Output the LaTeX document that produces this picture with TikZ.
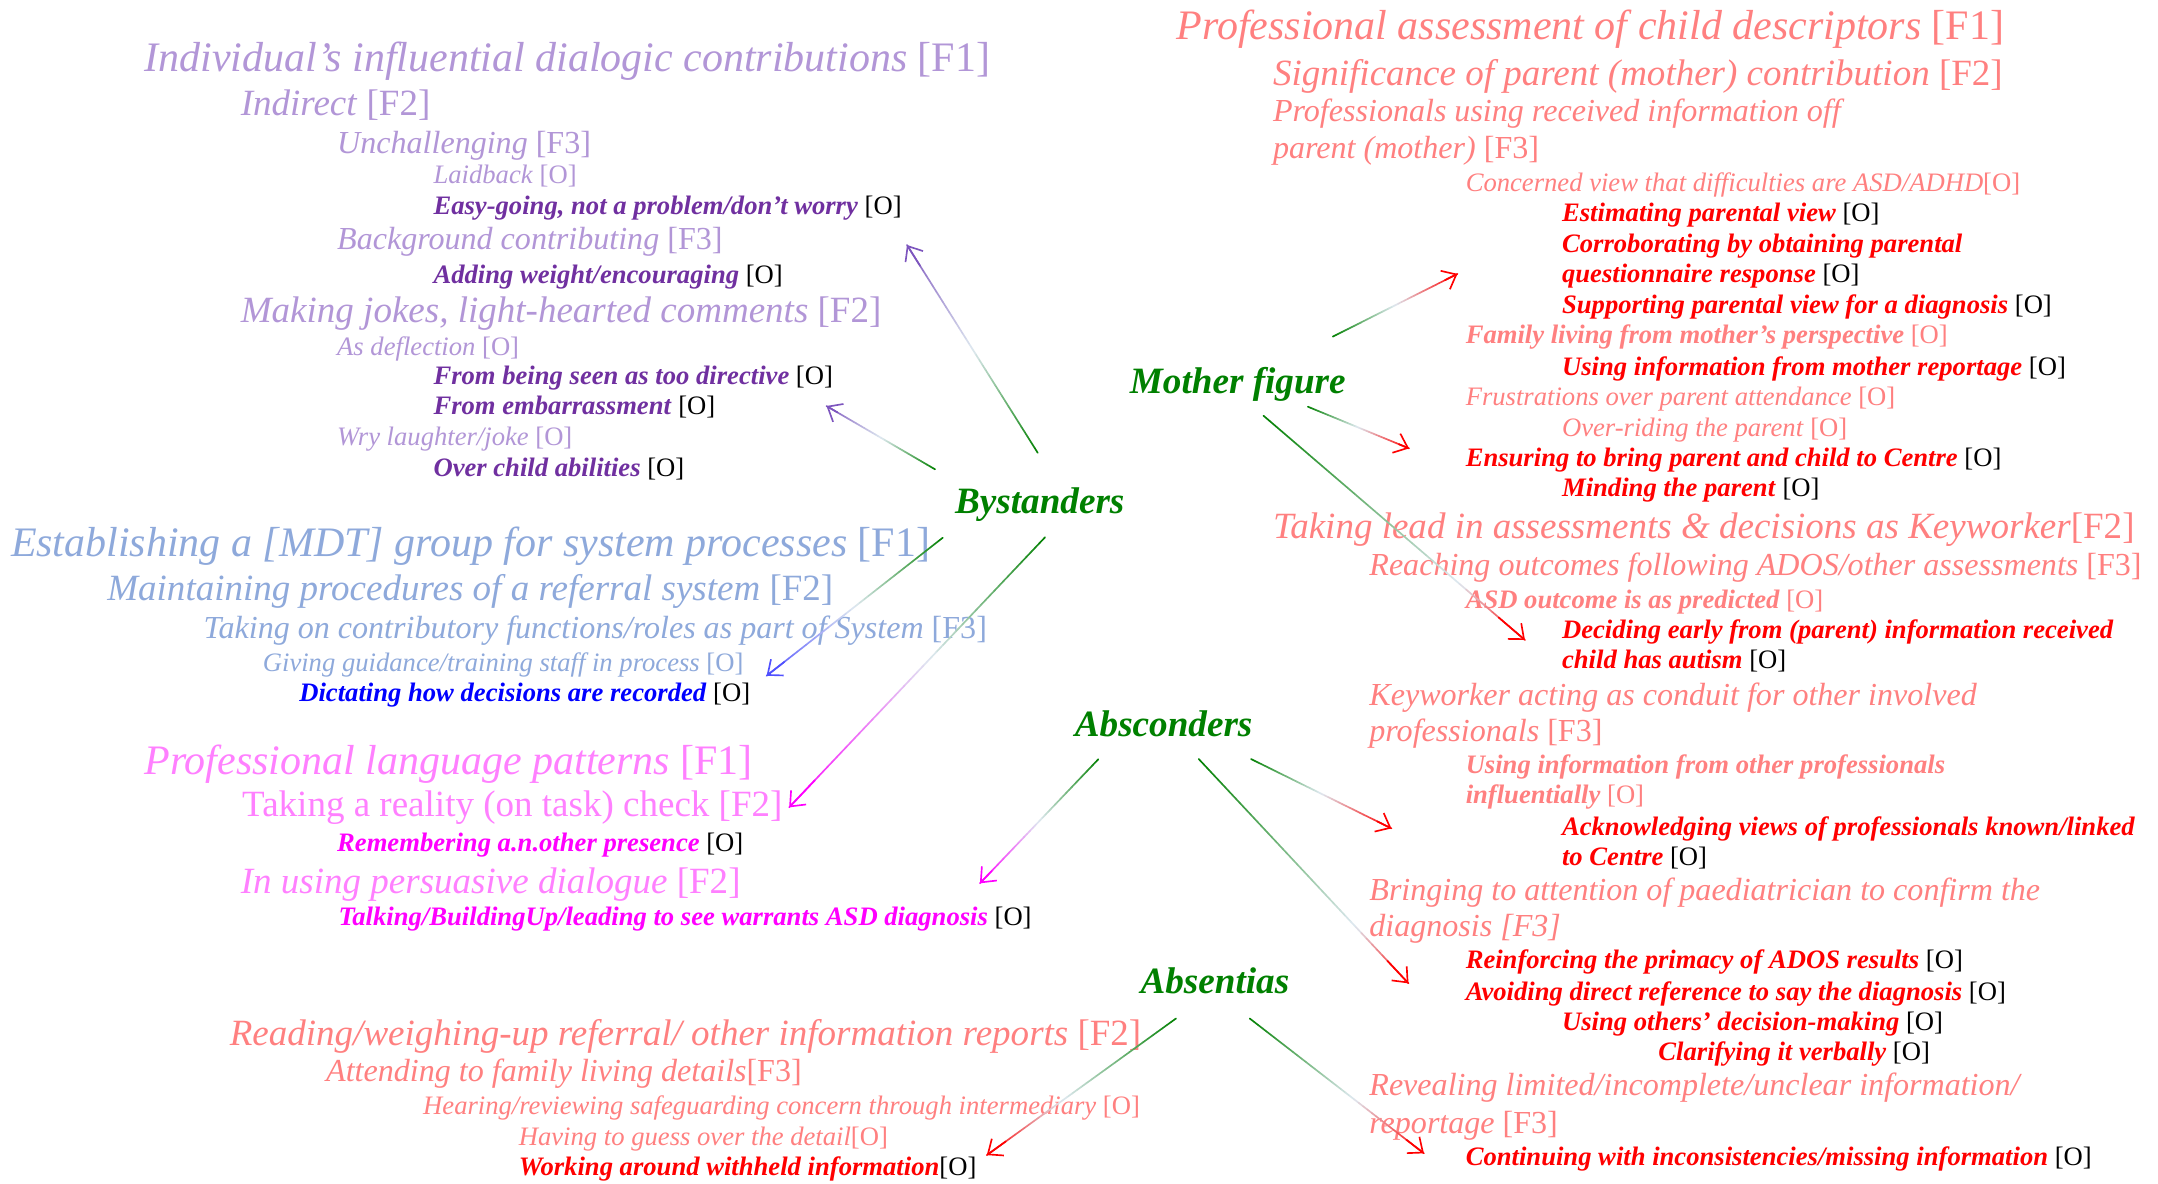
\documentclass[tikz,border=0pt]{standalone}
\usepackage{fontspec}
\setmainfont{Liberation Serif}
\usetikzlibrary{arrows.meta,calc}
\definecolor{lpur}{RGB}{178,150,215}
\definecolor{dpur}{RGB}{112,48,160}
\definecolor{lblu}{RGB}{142,169,219}
\definecolor{dblu}{RGB}{0,0,255}
\definecolor{lpnk}{RGB}{255,128,255}
\definecolor{dpnk}{RGB}{255,0,255}
\definecolor{lred}{RGB}{255,128,128}
\definecolor{dred}{RGB}{255,0,0}
\definecolor{hubg}{RGB}{0,128,0}
\definecolor{midc}{RGB}{222,232,240}
\definecolor{apur}{RGB}{125,85,190}
\definecolor{ablu}{RGB}{80,80,255}
\newcommand\bitx[1]{\textbf{\textit{#1}}}
\newcommand\oblk{\textcolor{black}{[O]}}
\newcommand\gradarrow[4]{%
 \foreach \gi in {0,...,39}{%
  \pgfmathsetmacro\gA{\gi/40}%
  \pgfmathsetmacro\gB{(\gi+1)/40}%
  \pgfmathsetmacro\gM{(\gi+0.5)/40}%
  \pgfmathtruncatemacro\gS{\gM<#4 ? 1 : 0}%
  \pgfmathtruncatemacro\gP{\gM<#4 ? 100*(1-\gM/#4) : 100*(\gM-#4)/(1-#4)}%
  \ifnum\gS=1 \colorlet{gcol}{hubg!\gP!midc}\else\colorlet{gcol}{#3!\gP!midc}\fi
  \draw[conn, gcol] ($(#1)!\gA!(#2)$) -- ($(#1)!\gB!(#2)$);
 }%
 \draw[conn, #3, -{Straight Barb[length=9pt,width=15pt]}] ($(#1)!0.9!(#2)$) -- (#2);
}
\tikzset{
 tx/.style={anchor=base west, inner sep=0pt, outer sep=0pt},
 sA/.style={tx, font=\fontsize{30.5}{32}\selectfont},
 sB/.style={tx, font=\fontsize{26.9}{28}\selectfont},
 sC/.style={tx, font=\fontsize{23.3}{25}\selectfont},
 sO/.style={tx, font=\fontsize{19.35}{21}\selectfont},
 hub/.style={tx, font=\fontsize{27}{29}\selectfont\bfseries\itshape, text=hubg},
 conn/.style={line width=1.2pt, line cap=round},
}
\begin{document}
\begin{tikzpicture}[x=1pt,y=-1pt]
\fill[white] (0,0) rectangle (1568,860);
\useasboundingbox (0,0) rectangle (1568,860);
% purple group
\node[sA, text=lpur] (p1) at (105,51.6) {\textit{Individual’s influential dialogic contributions} [F1]};
\node[sB, text=lpur] (p2) at (175,83.6) {\textit{Indirect} [F2]};
\node[sC, text=lpur] (p3) at (245,111.4) {\textit{Unchallenging} [F3]};
\node[sO, text=lpur] (p4) at (315,133.2) {\textit{Laidback} [O]};
\node[sO, text=dpur] (p5) at (315,156.2) {\bitx{Easy-going, not a problem/don’t worry} \oblk};
\node[sC, text=lpur] (p6) at (245,181.2) {\textit{Background contributing} [F3]};
\node[sO, text=dpur] (p7) at (315,205.9) {\bitx{Adding weight/encouraging} \oblk};
\node[sB, text=lpur] (p8) at (175,234.5) {\textit{Making jokes, light-hearted comments} [F2]};
\node[sO, text=lpur] (p9) at (245,258) {\textit{As deflection} [O]};
\node[sO, text=dpur] (p10) at (315,279.7) {\bitx{From being seen as too directive} \oblk};
\node[sO, text=dpur] (p11) at (315,301.5) {\bitx{From embarrassment} \oblk};
\node[sO, text=lpur] (p12) at (245,324) {\textit{Wry laughter/joke} [O]};
\node[sO, text=dpur] (p13) at (315,346.4) {\bitx{Over child abilities} \oblk};
% blue group
\node[sA, text=lblu] (b1) at (8,404) {\textit{Establishing a [MDT] group for system processes} [F1]};
\node[sB, text=lblu] (b2) at (78,436) {\textit{Maintaining procedures of a referral system} [F2]};
\node[sC, text=lblu] (b3) at (148,463.8) {\textit{Taking on contributory functions/roles as part of System} [F3]};
\node[sO, text=lblu] (b4) at (191,488) {\textit{Giving guidance/training staff in process} [O]};
\node[sO, text=dblu] (b5) at (217.5,509.8) {\bitx{Dictating how decisions are recorded} \oblk};
% pink group
\node[sA, text=lpnk] (k1) at (105,563) {\textit{Professional language patterns} [F1]};
\node[sB, text=lpnk] (k2) at (176,593.4) {Taking a reality (on task) check [F2]};
\node[sO, text=dpnk] (k3) at (245,618.8) {\bitx{Remembering a.n.other presence} \oblk};
\node[sB, text=lpnk] (k4) at (175,649) {\textit{In using persuasive dialogue} [F2]};
\node[sO, text=dpnk] (k5) at (246,672.8) {\bitx{Talking/BuildingUp/leading to see warrants ASD diagnosis} \oblk};
% bottom-left group
\node[sB, text=lred] (s1) at (167,759.3) {\textit{Reading/weighing-up referral/ other information reports} [F2]};
\node[sC, text=lred] (s2) at (237,786) {\textit{Attending to family living details}[F3]};
\node[sO, text=lred] (s3) at (307.5,810) {\textit{Hearing/reviewing safeguarding concern through intermediary} [O]};
\node[sO, text=lred] (s4) at (377,832) {\textit{Having to guess over the detail}[O]};
\node[sO, text=dred] (s5) at (377,853.8) {\bitx{Working around withheld information}\oblk};
% right group
\node[sA, text=lred] (r1) at (855,29) {\textit{Professional assessment of child descriptors} [F1]};
\node[sB, text=lred] (r2) at (925,61.8) {\textit{Significance of parent (mother) contribution} [F2]};
\node[sC, text=lred] (r3a) at (925,88.4) {\textit{Professionals using received information off}};
\node[sC, text=lred] (r3b) at (925,115) {\textit{parent (mother)} [F3]};
\node[sO, text=lred] (r4) at (1065,139.3) {\textit{Concerned view that difficulties are ASD/ADHD}[O]};
\node[sO, text=dred] (r5) at (1135,161) {\bitx{Estimating parental view} \oblk};
\node[sO, text=dred] (r6a) at (1135,183.6) {\bitx{Corroborating by obtaining parental}};
\node[sO, text=dred] (r6b) at (1135,205.4) {\bitx{questionnaire response} \oblk};
\node[sO, text=dred] (r7) at (1135,227.7) {\bitx{Supporting parental view for a diagnosis} \oblk};
\node[sO, text=lred] (r8) at (1065,249.5) {\bitx{Family living from mother’s perspective} [O]};
\node[sO, text=dred] (r9) at (1135,272.5) {\bitx{Using information from mother reportage} \oblk};
\node[sO, text=lred] (r10) at (1065,294.3) {\textit{Frustrations over parent attendance} [O]};
\node[sO, text=lred] (r11) at (1135,317.3) {\textit{Over-riding the parent} [O]};
\node[sO, text=dred] (r12) at (1065,339) {\bitx{Ensuring to bring parent and child to Centre} \oblk};
\node[sO, text=dred] (r13) at (1135,360.9) {\bitx{Minding the parent} \oblk};
\node[sB, text=lred] (r14) at (925,391) {\textit{Taking lead in assessments \& decisions as Keyworker}[F2]};
\node[sC, text=lred] (r15) at (995,417.8) {\textit{Reaching outcomes following ADOS/other assessments} [F3]};
\node[sO, text=lred] (r16) at (1065,442) {\bitx{ASD outcome is as predicted} [O]};
\node[sO, text=dred] (r17a) at (1135,463.8) {\bitx{Deciding early from (parent) information received}};
\node[sO, text=dred] (r17b) at (1135,485.6) {\bitx{child has autism} \oblk};
\node[sC, text=lred] (r18a) at (995,512.3) {\textit{Keyworker acting as conduit for other involved}};
\node[sC, text=lred] (r18b) at (995,538.9) {\textit{professionals} [F3]};
\node[sO, text=lred] (r19a) at (1065,561.9) {\bitx{Using information from other professionals}};
\node[sO, text=lred] (r19b) at (1065,583.7) {\bitx{influentially} [O]};
\node[sO, text=dred] (r20a) at (1135,606.7) {\bitx{Acknowledging views of professionals known/linked}};
\node[sO, text=dred] (r20b) at (1135,628.5) {\bitx{to Centre} \oblk};
\node[sC, text=lred] (r21a) at (995,654) {\textit{Bringing to attention of paediatrician to confirm the}};
\node[sC, text=lred] (r21b) at (995,680.6) {\textit{diagnosis [F3]}};
\node[sO, text=dred] (r22) at (1065,703.6) {\bitx{Reinforcing the primacy of ADOS results} \oblk};
\node[sO, text=dred] (r23) at (1065,726.6) {\bitx{Avoiding direct reference to say the diagnosis} \oblk};
\node[sO, text=dred] (r24) at (1135,748.4) {\bitx{Using others’ decision-making} \oblk};
\node[sO, text=dred] (r25) at (1205,770.2) {\bitx{Clarifying it verbally} \oblk};
\node[sC, text=lred] (r26a) at (995,795.7) {\textit{Revealing limited/incomplete/unclear information/}};
\node[sC, text=lred] (r26b) at (995,823.5) {\textit{reportage} [F3]};
\node[sO, text=dred] (r27) at (1065,846.5) {\bitx{Continuing with inconsistencies/missing information} \oblk};
% hubs
\node[hub] (hmo) at (821,285.8) {Mother figure};
\node[hub] (hby) at (694,373) {Bystanders};
\node[hub] (hab) at (781,534.8) {Absconders};
\node[hub] (has) at (828.7,721.8) {Absentias};
% connector end points
\coordinate (a1s) at (754,329);   \coordinate (a1e) at (659,178);
\coordinate (a2s) at (679.4,341); \coordinate (a2e) at (600.5,295);
\coordinate (a3s) at (685,390.7); \coordinate (a3e) at (557,491);
\coordinate (a4s) at (759.3,390.4); \coordinate (a4e) at (573.4,586.6);
\coordinate (a5s) at (798,551.7); \coordinate (a5e) at (712,641.8);
\coordinate (a6s) at (854.5,740); \coordinate (a6e) at (717,839.3);
\coordinate (a7s) at (968.4,244.6); \coordinate (a7e) at (1059,199);
\coordinate (a8s) at (950.3,295.5); \coordinate (a8e) at (1023.8,325.8);
\coordinate (a9s) at (918,302);   \coordinate (a9e) at (1108,465);
\coordinate (a10s) at (909,551.5); \coordinate (a10e) at (1011,601.9);
\coordinate (a11s) at (871,551.5); \coordinate (a11e) at (1023.4,714.5);
\coordinate (a12s) at (908,740);  \coordinate (a12e) at (1034.6,838);
\gradarrow{a1s}{a1e}{apur}{0.5}
\gradarrow{a2s}{a2e}{apur}{0.5}
\gradarrow{a3s}{a3e}{ablu}{0.5}
\gradarrow{a4s}{a4e}{dpnk}{0.45}
\gradarrow{a5s}{a5e}{dpnk}{0.5}
\gradarrow{a6s}{a6e}{dred}{0.6}
\gradarrow{a7s}{a7e}{dred}{0.5}
\gradarrow{a8s}{a8e}{dred}{0.5}
\gradarrow{a9s}{a9e}{dred}{0.75}
\gradarrow{a10s}{a10e}{dred}{0.5}
\gradarrow{a11s}{a11e}{dred}{0.75}
\gradarrow{a12s}{a12e}{dred}{0.6}
\end{tikzpicture}
\end{document}
